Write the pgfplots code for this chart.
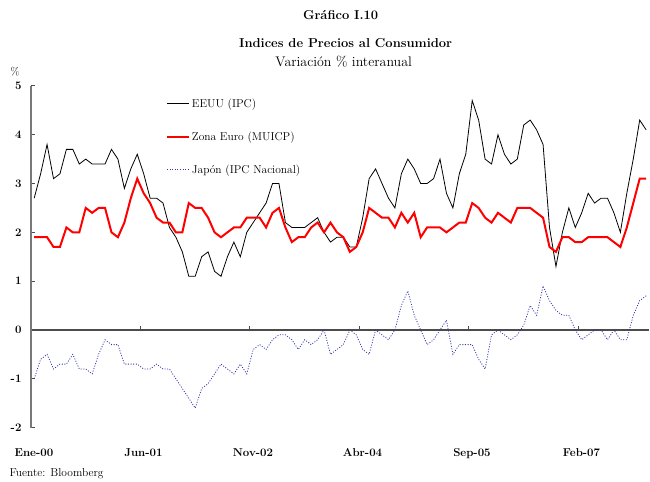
\documentclass[border=0pt]{standalone}
\usepackage{fontspec}
\usepackage{pgfplots}
\usepackage{pgfplotstable}
\pgfplotsset{compat=1.18}
\definecolor{jpblue}{RGB}{50,50,170}
\definecolor{axgray}{RGB}{120,120,120}

% i = months since Ene-00; us = EEUU (IPC), ez = Zona Euro (MUICP), jp = Japon (IPC Nacional)
\pgfplotstableread{
i us ez jp
0 2.7 1.9 -1.0
1 3.2 1.9 -0.6
2 3.8 1.9 -0.5
3 3.1 1.7 -0.8
4 3.2 1.7 -0.7
5 3.7 2.1 -0.7
6 3.7 2.0 -0.5
7 3.4 2.0 -0.8
8 3.5 2.5 -0.8
9 3.4 2.4 -0.9
10 3.4 2.5 -0.5
11 3.4 2.5 -0.2
12 3.7 2.0 -0.3
13 3.5 1.9 -0.3
14 2.9 2.2 -0.7
15 3.3 2.7 -0.7
16 3.6 3.1 -0.7
17 3.2 2.8 -0.8
18 2.7 2.6 -0.8
19 2.7 2.3 -0.7
20 2.6 2.2 -0.8
21 2.1 2.2 -0.8
22 1.9 2.0 -1.0
23 1.6 2.0 -1.2
24 1.1 2.6 -1.4
25 1.1 2.5 -1.6
26 1.5 2.5 -1.2
27 1.6 2.3 -1.1
28 1.2 2.0 -0.9
29 1.1 1.9 -0.7
30 1.5 2.0 -0.8
31 1.8 2.1 -0.9
32 1.5 2.1 -0.7
33 2.0 2.3 -0.9
34 2.2 2.3 -0.4
35 2.4 2.3 -0.3
36 2.6 2.1 -0.4
37 3.0 2.4 -0.2
38 3.0 2.5 -0.1
39 2.2 2.1 -0.1
40 2.1 1.8 -0.2
41 2.1 1.9 -0.4
42 2.1 1.9 -0.2
43 2.2 2.1 -0.3
44 2.3 2.2 -0.2
45 2.0 2.0 0.0
46 1.8 2.2 -0.5
47 1.9 2.0 -0.4
48 1.9 1.9 -0.3
49 1.7 1.6 0.0
50 1.7 1.7 -0.1
51 2.3 2.0 -0.4
52 3.1 2.5 -0.5
53 3.3 2.4 0.0
54 3.0 2.3 -0.1
55 2.7 2.3 -0.2
56 2.5 2.1 0.0
57 3.2 2.4 0.5
58 3.5 2.2 0.8
59 3.3 2.4 0.3
60 3.0 1.9 0.0
61 3.0 2.1 -0.3
62 3.1 2.1 -0.2
63 3.5 2.1 0.0
64 2.8 2.0 0.2
65 2.5 2.1 -0.5
66 3.2 2.2 -0.3
67 3.6 2.2 -0.3
68 4.7 2.6 -0.3
69 4.3 2.5 -0.6
70 3.5 2.3 -0.8
71 3.4 2.2 -0.1
72 4.0 2.4 0.0
73 3.6 2.3 -0.1
74 3.4 2.2 -0.2
75 3.5 2.5 -0.1
76 4.2 2.5 0.1
77 4.3 2.5 0.5
78 4.1 2.4 0.3
79 3.8 2.3 0.9
80 2.1 1.7 0.6
81 1.3 1.6 0.4
82 2.0 1.9 0.3
83 2.5 1.9 0.3
84 2.1 1.8 0.0
85 2.4 1.8 -0.2
86 2.8 1.9 -0.1
87 2.6 1.9 0.0
88 2.7 1.9 0.0
89 2.7 1.9 -0.2
90 2.4 1.8 0.0
91 2.0 1.7 -0.2
92 2.8 2.1 -0.2
93 3.5 2.6 0.3
94 4.3 3.1 0.6
95 4.1 3.1 0.7
}\ipc

\begin{document}
\begin{tikzpicture}
\path (0bp,0bp) rectangle (650bp,481bp);
\node[font=\bfseries\fontsize{13}{15}\selectfont] at (341bp,466bp) {Gráfico I.10};
\node[font=\bfseries\fontsize{13}{15}\selectfont] at (346bp,438bp) {Indices de Precios al Consumidor};
\node[font=\fontsize{14}{16}\selectfont] at (344bp,419bp) {Variación \% interanual};
\node[font=\fontsize{11}{13}\selectfont] at (15bp,409bp) {\%};
\node[anchor=west, font=\fontsize{11.5}{13}\selectfont] at (6bp,7bp) {Fuente: Bloomberg};

\begin{axis}[
  at={(31bp,53bp)}, anchor=south west,
  scale only axis, width=619bp, height=342bp,
  xmin=-0.5, xmax=95.5, ymin=-2, ymax=5,
  axis x line=middle, axis y line=left,
  axis line style={-},
  x axis line style={draw=black!70, line width=1.3bp},
  y axis line style={draw=axgray, line width=1.3bp},
  hide obscured x ticks=false, hide obscured y ticks=false,
  xtick={-0.5,16.5,33.5,50.5,67.5,84.5},
  xticklabels={Ene-00,Jun-01,Nov-02,Abr-04,Sep-05,Feb-07},
  ytick={-2,-1,0,1,2,3,4,5},
  yticklabels={-2,-1,0,1,2,3,4,5},
  tick align=inside,
  major tick length=4bp,
  tick style={draw=black!70, line width=1bp},
  xticklabel style={font=\bfseries\fontsize{11.5}{13}\selectfont, yshift=-115bp, xshift=3bp},
  yticklabel style={font=\bfseries\fontsize{11.5}{13}\selectfont, xshift=-6bp},
  legend style={draw=none, fill=none, at={(0.218,0.969)}, anchor=north west,
    inner sep=0pt, row sep=19bp, font=\fontsize{11.5}{13}\selectfont},
  legend cell align=left,
  legend image code/.code={\draw[#1] (0bp,0bp) -- (22bp,0bp);},
]
\addplot[black, line width=0.8bp] table[x=i, y=us] {\ipc};
\addlegendentry{EEUU (IPC)}
\addplot[red, line width=2bp] table[x=i, y=ez] {\ipc};
\addlegendentry{Zona Euro (MUICP)}
\addplot[jpblue, line width=0.8bp, dash pattern=on 1bp off 1.6bp] table[x=i, y=jp] {\ipc};
\addlegendentry{Japón (IPC Nacional)}
\end{axis}
\end{tikzpicture}
\end{document}
